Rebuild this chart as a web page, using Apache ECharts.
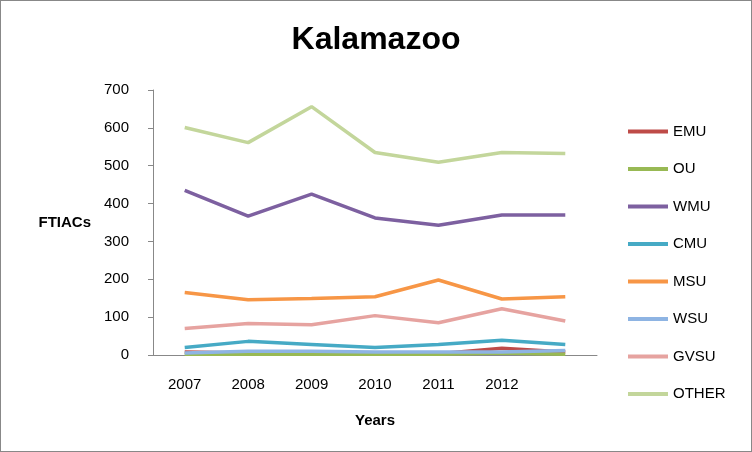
<!DOCTYPE html>
<html><head><meta charset="utf-8">
<script src="https://cdn.jsdelivr.net/npm/echarts@6/dist/echarts.min.js"></script>
<style>html,body{margin:0;padding:0}#c{width:750px;height:450px;border:1px solid #888}</style>
</head><body><div id="c"></div>
<script>
var years = ['2007', '2008', '2009', '2010', '2011', '2012', ''];
var names = ['EMU', 'OU', 'WMU', 'CMU', 'MSU', 'WSU', 'GVSU', 'OTHER'];
var colors = ['#be4b48', '#98b954', '#7d60a0', '#46aac5', '#f79646', '#8eb4e3', '#e6a3a0', '#c3d69b'];
var emu = [8, 5, 8, 5, 3, 18, 8];
var ou = [2, 2, 2, 2, 2, 5, 2];
var wmu = [435, 367, 425, 362, 343, 370, 370];
var cmu = [20, 36, 28, 20, 28, 39, 28];
var msu = [165, 146, 149, 154, 198, 148, 154];
var wsu = [5, 10, 10, 8, 8, 8, 12];
var gvsu = [70, 83, 80, 104, 85, 122, 90];
var other = [601, 561, 656, 535, 509, 535, 532];
var values = [emu, ou, wmu, cmu, msu, wsu, gvsu, other];

var myChart = echarts.init(document.getElementById('c'));
var option = {
   color: colors,
   title: {
      text: 'Kalamazoo', left: 370, top: 18, textAlign: 'center',
      textStyle: { fontFamily: 'Liberation Sans', fontSize: 32, fontWeight: 'bold', color: '#000' }
   },
   legend: {
      orient: 'vertical', left: 622, top: 118, itemGap: 22.5, itemWidth: 40, itemHeight: 4,
      icon: 'rect',
      textStyle: { fontFamily: 'Liberation Sans', fontSize: 15, color: '#000' },
      data: names
   },
   grid: { left: 152, right: 154, top: 89, bottom: 96 },
   xAxis: {
      type: 'category', data: years, boundaryGap: true,
      name: 'Years', nameLocation: 'middle', nameGap: 58,
      nameTextStyle: { fontFamily: 'Liberation Sans', fontSize: 15, fontWeight: 'bold', color: '#000' },
      axisLine: { lineStyle: { color: '#888' } },
      axisTick: { show: false },
      axisLabel: { fontFamily: 'Liberation Sans', fontSize: 15, color: '#000', margin: 22 }
   },
   yAxis: {
      type: 'value', min: 0, max: 700, interval: 100,
      name: 'FTIACs', nameLocation: 'middle', nameGap: 62, nameRotate: 0,
      nameTextStyle: { fontFamily: 'Liberation Sans', fontSize: 15, fontWeight: 'bold', color: '#000' },
      axisLine: { show: true, lineStyle: { color: '#888' } },
      axisTick: { show: true, lineStyle: { color: '#888' } },
      splitLine: { show: false },
      axisLabel: { fontFamily: 'Liberation Sans', fontSize: 15, color: '#000', margin: 24 }
   },
   series: names.map(function (n, i) {
      return { name: n, type: 'line', data: values[i], showSymbol: false, lineStyle: { width: 3.5 } };
   })
};
myChart.setOption(option);
</script></body></html>
